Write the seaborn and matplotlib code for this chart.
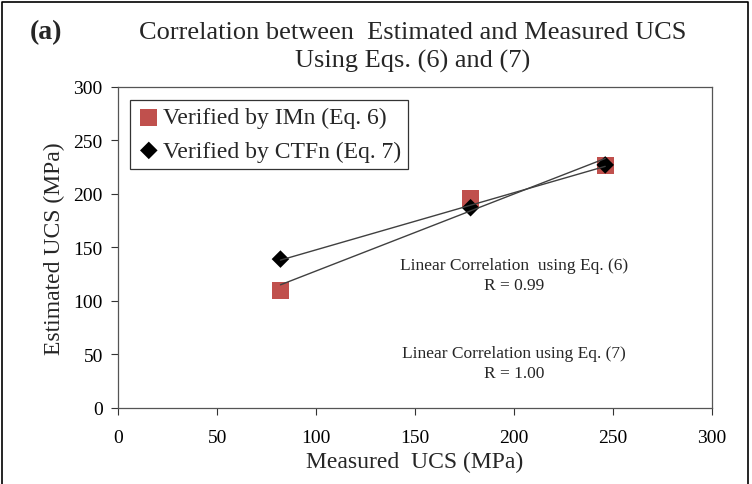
import numpy as np
import pandas as pd
import matplotlib.pyplot as plt
import seaborn as sns
from matplotlib.lines import Line2D

# data
measured = [82, 178, 246]
est_imn = [110, 196, 226]
est_ctfn = [139, 187, 227]
series_names = ['Verified by IMn (Eq. 6)', 'Verified by CTFn (Eq. 7)']
x_ticks = [0, 50, 100, 150, 200, 250, 300]
y_ticks = [0, 50, 100, 150, 200, 250, 300]

df = pd.DataFrame({
    'Measured': measured * 2,
    'Estimated': est_imn + est_ctfn,
    'Series': [series_names[0]] * 3 + [series_names[1]] * 3,
})

sns.set_theme(style="white")
plt.rcParams['font.family'] = ['Liberation Serif', 'DejaVu Serif']

fig = plt.figure(figsize=(7.52, 4.85), dpi=100)
ax = fig.add_axes([0.157, 0.157, 0.790, 0.662])

palette = {series_names[0]: '#C0504D', series_names[1]: 'black'}
markers = {series_names[0]: 's', series_names[1]: 'D'}
sizes_pt = {series_names[0]: 150, series_names[1]: 80}

for name in series_names:
    sub = df[df['Series'] == name]
    sns.scatterplot(data=sub, x='Measured', y='Estimated', color=palette[name],
                    marker=markers[name], s=sizes_pt[name], edgecolor='none',
                    ax=ax, zorder=3, label=name)

# linear trend lines
for name in series_names:
    sub = df[df['Series'] == name]
    sns.regplot(data=sub, x='Measured', y='Estimated', scatter=False, ci=None,
                color='#404040', line_kws={'lw': 1.0, 'zorder': 4}, ax=ax)

ax.set_xlim(0, 300)
ax.set_ylim(0, 300)
ax.set_xticks(x_ticks)
ax.set_yticks(y_ticks)
ax.tick_params(axis='both', labelsize=14, direction='out', length=5, width=0.8,
               colors='#333333', labelcolor='black', bottom=True, left=True, pad=6)
ax.tick_params(axis='x', pad=10)
for sp in ax.spines.values():
    sp.set_color('#555555')
    sp.set_linewidth(0.9)

ax.set_xlabel('Measured  UCS (MPa)', fontsize=17, labelpad=4)
ax.set_ylabel('Estimated UCS (MPa)', fontsize=17, labelpad=6)

ax.text(200, 124, 'Linear Correlation  using Eq. (6)\nR = 0.99', ha='center', va='center',
        fontsize=12.5, linespacing=1.3)
ax.text(200, 42, 'Linear Correlation using Eq. (7)\nR = 1.00', ha='center', va='center',
        fontsize=12.5, linespacing=1.3)

leg = ax.legend(loc='upper left', bbox_to_anchor=(0.008, 0.982), fontsize=17, frameon=True,
                fancybox=False, edgecolor='black', handletextpad=0.1, handlelength=1.0,
                borderpad=0.3, labelspacing=0.5, borderaxespad=0.3)
leg.get_frame().set_linewidth(0.9)

fig.text(0.549, 0.902, 'Correlation between  Estimated and Measured UCS\nUsing Eqs. (6) and (7)',
         ha='center', va='center', fontsize=19, linespacing=1.35)
fig.text(0.04, 0.932, '(a)', ha='left', va='center', fontsize=20, fontweight='bold')

# outer frame (open at the bottom)
fig.add_artist(Line2D([0.002, 0.002, 0.995, 0.995], [0.0, 0.994, 0.994, 0.0],
                      transform=fig.transFigure, color='black', lw=1.2))

fig.savefig('out.png', dpi=100)
